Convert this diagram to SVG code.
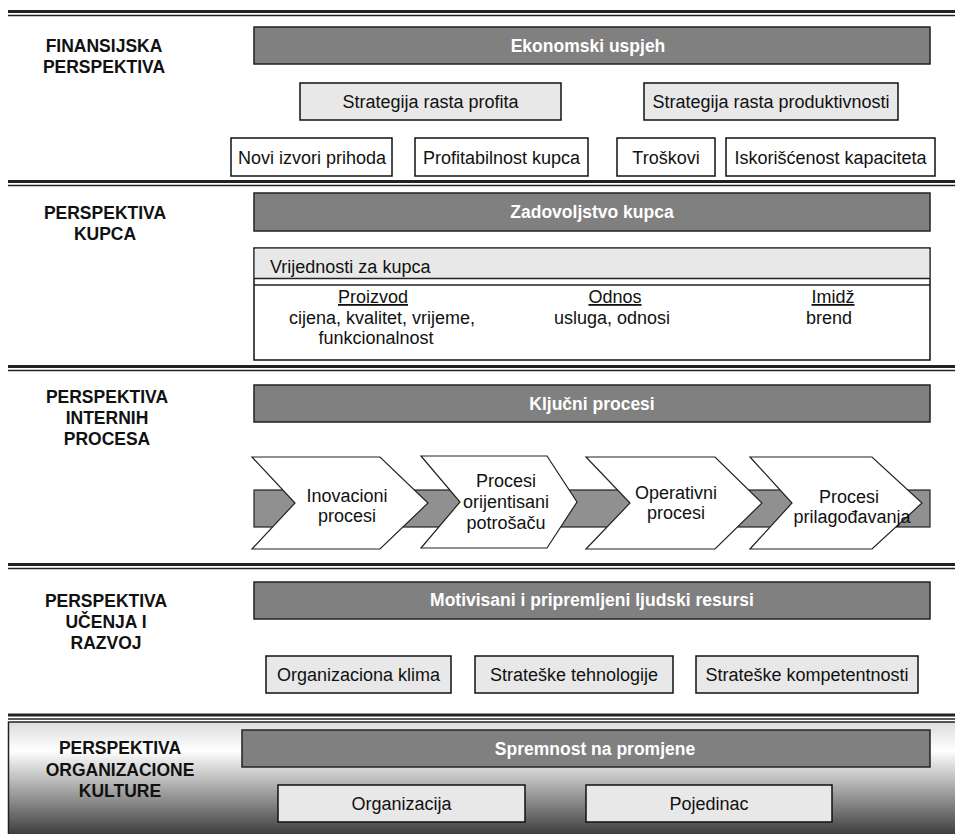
<svg xmlns="http://www.w3.org/2000/svg" width="955" height="834" viewBox="0 0 955 834">
<defs>
<linearGradient id="g5" x1="0" y1="0" x2="0" y2="1">
<stop offset="0" stop-color="#dcdcdc"/>
<stop offset="0.25" stop-color="#ffffff"/>
<stop offset="1" stop-color="#383838"/>
</linearGradient>
<style>
text{font-family:"Liberation Sans",Arial,sans-serif;fill:#111}
.lbl{font-size:17.5px;font-weight:bold;text-anchor:middle}
.hdr{fill:#808080;stroke:#222;stroke-width:1.5}
.ht{font-size:17.5px;font-weight:bold;fill:#fff;text-anchor:middle}
.lg{fill:#e8e8e8;stroke:#111;stroke-width:1.5}
.wb{fill:#fff;stroke:#111;stroke-width:1.5}
.t{font-size:18px;text-anchor:middle}
.thk{stroke:#222;stroke-width:3}
.thn{stroke:#222;stroke-width:1.5}
.chev{fill:#fff;stroke:#222;stroke-width:1.2}
.band{fill:#909090;stroke:#222;stroke-width:1.2}
</style>
</defs>
<rect width="955" height="834" fill="#fff"/>

<g id="separators">
<line class="thk" x1="8" y1="11.5" x2="955" y2="11.5"/><line class="thn" x1="8" y1="15.5" x2="955" y2="15.5"/>
<line class="thk" x1="8" y1="181.5" x2="955" y2="181.5"/><line class="thn" x1="8" y1="185.5" x2="955" y2="185.5"/>
<line class="thk" x1="8" y1="366.5" x2="955" y2="366.5"/><line class="thn" x1="8" y1="370.5" x2="955" y2="370.5"/>
<line class="thk" x1="8" y1="564.5" x2="955" y2="564.5"/><line class="thn" x1="8" y1="568.5" x2="955" y2="568.5"/>
<line class="thk" x1="8" y1="715" x2="955" y2="715"/><line class="thn" x1="8" y1="719" x2="955" y2="719"/>
</g>

<g id="bg-culture">
<rect x="8.5" y="722" width="950" height="115" fill="url(#g5)" stroke="#222" stroke-width="1.5"/>
</g>

<g id="sec-finansijska">
<text class="lbl" x="104" y="52">FINANSIJSKA</text>
<text class="lbl" x="104" y="73">PERSPEKTIVA</text>
</g>
<g id="ekonomski-uspjeh"><rect class="hdr" x="254" y="27" width="676" height="37"/><text class="ht" x="588" y="52">Ekonomski uspjeh</text></g>
<g id="rast-profita"><rect class="lg" x="300" y="83" width="261" height="37"/><text class="t" x="430.5" y="108">Strategija rasta profita</text></g>
<g id="rast-produktivnosti"><rect class="lg" x="644" y="83" width="254" height="37"/><text class="t" x="771" y="108">Strategija rasta produktivnosti</text></g>
<g id="novi-izvori"><rect class="wb" x="231" y="138" width="161" height="38"/><text class="t" x="312" y="164">Novi izvori prihoda</text></g>
<g id="profitabilnost"><rect class="wb" x="415" y="138" width="173" height="38"/><text class="t" x="501.5" y="164">Profitabilnost kupca</text></g>
<g id="troskovi"><rect class="wb" x="617" y="138" width="98" height="38"/><text class="t" x="666" y="164">Troškovi</text></g>
<g id="iskoriscenost"><rect class="wb" x="726" y="138" width="209" height="38"/><text class="t" x="830.5" y="164">Iskorišćenost kapaciteta</text></g>

<g id="sec-kupca">
<text class="lbl" x="105" y="219">PERSPEKTIVA</text>
<text class="lbl" x="105" y="240">KUPCA</text>
</g>
<g id="zadovoljstvo"><rect class="hdr" x="254" y="193" width="676" height="38"/><text class="ht" x="592" y="218">Zadovoljstvo kupca</text></g>
<g id="vrijednosti">
<rect class="wb" x="254" y="248" width="676" height="112"/>
<rect x="254.75" y="248.75" width="674.5" height="29.5" fill="#e8e8e8"/>
<line class="thn" x1="254" y1="278.5" x2="930" y2="278.5"/>
<line class="thn" x1="254" y1="285" x2="930" y2="285"/>
<text style="font-size:18px" x="270" y="273">Vrijednosti za kupca</text>
<text class="t" x="373" y="303" text-decoration="underline">Proizvod</text>
<text class="t" x="382" y="323.5">cijena, kvalitet, vrijeme,</text>
<text class="t" x="376" y="344">funkcionalnost</text>
<text class="t" x="615" y="303" text-decoration="underline">Odnos</text>
<text class="t" x="612" y="323.5">usluga, odnosi</text>
<text class="t" x="833" y="303" text-decoration="underline">Imidž</text>
<text class="t" x="829" y="323.5">brend</text>
</g>

<g id="sec-internih">
<text class="lbl" x="107" y="403">PERSPEKTIVA</text>
<text class="lbl" x="107" y="424">INTERNIH</text>
<text class="lbl" x="107" y="445">PROCESA</text>
</g>
<g id="kljucni"><rect class="hdr" x="254" y="385" width="676" height="37"/><text class="ht" x="592" y="410">Ključni procesi</text></g>

<g id="connectors">
<rect class="band" x="254" y="490" width="676" height="37"/>
</g>
<g id="inovacioni">
<polygon class="chev" points="252,457 380,457 428,503 380,549 252,549 295,503"/>
<text class="t" x="347" y="502">Inovacioni</text><text class="t" x="347" y="522">procesi</text>
</g>
<g id="orijentisani">
<polygon class="chev" points="421,456 547,456 577,502 547,548 421,548 460,502"/>
<text class="t" x="506" y="487">Procesi</text><text class="t" x="506" y="508">orijentisani</text><text class="t" x="506" y="529">potrošaču</text>
</g>
<g id="operativni">
<polygon class="chev" points="586,457 715,457 762,503 715,549 586,549 630,503"/>
<text class="t" x="676" y="499">Operativni</text><text class="t" x="676" y="519">procesi</text>
</g>
<g id="prilagodjavanja">
<polygon class="chev" points="750,457 872,457 922,503 872,549 750,549 792,503"/>
<text class="t" x="849" y="503">Procesi</text><text class="t" x="852" y="523">prilagođavanja</text>
</g>

<g id="sec-ucenja">
<text class="lbl" x="106" y="607">PERSPEKTIVA</text>
<text class="lbl" x="106" y="628">UČENJA I</text>
<text class="lbl" x="106" y="649">RAZVOJ</text>
</g>
<g id="motivisani"><rect class="hdr" x="254" y="582" width="676" height="37"/><text class="ht" x="592" y="606">Motivisani i pripremljeni ljudski resursi</text></g>
<g id="klima"><rect class="lg" x="266" y="656" width="185" height="37"/><text class="t" x="358.5" y="681">Organizaciona klima</text></g>
<g id="tehnologije"><rect class="lg" x="475" y="656" width="198" height="37"/><text class="t" x="574" y="681">Strateške tehnologije</text></g>
<g id="kompetentnosti"><rect class="lg" x="696" y="656" width="222" height="37"/><text class="t" x="807" y="681">Strateške kompetentnosti</text></g>

<g id="sec-kulture">
<text class="lbl" x="120" y="754">PERSPEKTIVA</text>
<text class="lbl" x="120" y="776">ORGANIZACIONE</text>
<text class="lbl" x="120" y="797">KULTURE</text>
</g>
<g id="spremnost"><rect class="hdr" x="242" y="730" width="688" height="37"/><text class="ht" x="595" y="755">Spremnost na promjene</text></g>
<g id="organizacija"><rect class="lg" x="278" y="785" width="247" height="37"/><text class="t" x="401.5" y="810">Organizacija</text></g>
<g id="pojedinac"><rect class="lg" x="586" y="785" width="246" height="37"/><text class="t" x="709" y="810">Pojedinac</text></g>
</svg>
